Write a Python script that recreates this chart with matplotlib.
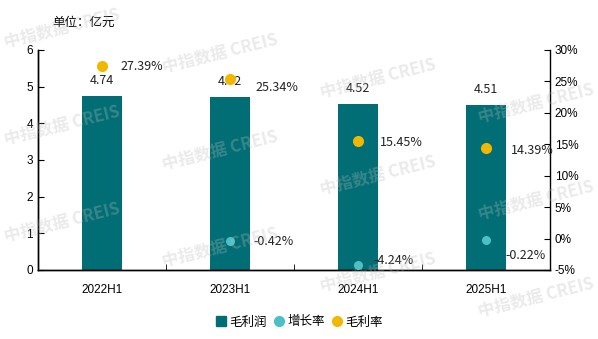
import numpy as np
import matplotlib
matplotlib.use('Agg')
from matplotlib import pyplot as plt
from matplotlib.lines import Line2D
from matplotlib.ticker import FuncFormatter

cjk = ['Noto Sans CJK SC', 'DejaVu Sans']
latin = ['Liberation Sans', 'DejaVu Sans']

periods = ['2022H1', '2023H1', '2024H1', '2025H1']
profit = [4.74, 4.72, 4.52, 4.51]               # 毛利润, 亿元
growth = [np.nan, -0.42, -4.24, -0.22]          # 增长率, %
margin = [27.39, 25.34, 15.45, 14.39]           # 毛利率, %

# label offsets (points) so the percent texts don't collide
margin_off = [(13, 0), (18, -6), (16, -1), (18, -1.5)]
growth_off = [None, (17, 0), (11, 3.5), (14, -11)]

c_bar = '#006e74'
c_growth = '#4dbfc6'
c_margin = '#f2b800'

fig = plt.figure(figsize=(5.98, 3.39), dpi=100)
ax = fig.add_axes([38/598, 69/339, 512/598, 220/339])
ax2 = ax.twinx()

x = np.arange(len(periods))
ax.bar(x, profit, width=0.31, color=c_bar, zorder=2)
for xi, v in zip(x, profit):
    ax.annotate(f'{v:.2f}', (xi, v), xytext=(0, 11), textcoords='offset points',
                ha='center', va='center', fontsize=9, family=cjk, color='#222222')

ax.set_xlim(-0.5, 3.5)
ax.set_ylim(0, 6)
ax.set_yticks(range(7))
ax.set_xticks(x)
ax.set_xticklabels(periods)
ax.set_xticks(np.arange(0.5, 4, 1), minor=True)
ax.tick_params(axis='x', which='major', length=0, pad=10)
ax.tick_params(axis='x', which='minor', direction='in', length=4)
ax.tick_params(axis='y', direction='in', length=4)

ax2.set_ylim(-5, 30)
ax2.set_yticks(range(-5, 31, 5))
ax2.yaxis.set_major_formatter(FuncFormatter(lambda v, p: f'{v:.0f}%'))
ax2.tick_params(axis='y', direction='in', length=4)

ax2.plot(x, margin, 'o', color=c_margin, ms=7, zorder=3)
ax2.plot(x, growth, 'o', color=c_growth, ms=5.5, zorder=3)
for xi, v, off in zip(x, margin, margin_off):
    ax2.annotate(f'{v:.2f}%', (xi, v), xytext=off, textcoords='offset points',
                 ha='left', va='center', fontsize=9, family=cjk, color='#222222')
for xi, v, off in zip(x, growth, growth_off):
    if off is None:
        continue
    ax2.annotate(f'{v:.2f}%', (xi, v), xytext=off, textcoords='offset points',
                 ha='left', va='center', fontsize=9, family=cjk, color='#222222')

for a in (ax, ax2):
    a.spines['top'].set_visible(False)
    for s in a.spines.values():
        s.set_linewidth(1.0)
        s.set_color('black')
    for lbl in a.get_xticklabels() + a.get_yticklabels():
        lbl.set_family(latin)
        lbl.set_fontsize(8.5)
ax.spines['right'].set_visible(False)

fig.text(52/598, 1 - 22/339, '单位：亿元', fontsize=9, family=cjk, va='center')

handles = [
    Line2D([], [], marker='s', ls='', color=c_bar, ms=7),
    Line2D([], [], marker='o', ls='', color=c_growth, ms=7),
    Line2D([], [], marker='o', ls='', color=c_margin, ms=7),
]
fig.legend(handles, ['毛利润', '增长率', '毛利率'], loc='center',
           bbox_to_anchor=(0.5, 1 - 322/339), ncol=3, frameon=False,
           prop={'family': cjk, 'size': 9}, handletextpad=0.15,
           columnspacing=0.5, handlelength=1.0)

# watermark lattice
cols = [62, 220, 378, 536]
for i, cx in enumerate(cols):
    y0 = (28 + 25 * i) % 97
    for cy in np.arange(y0, 315, 97):
        if cy < 20:
            continue
        fig.text(cx/598, 1 - cy/339, '中指数据 CREIS', fontsize=12, family=cjk,
                 fontweight='bold', color='#bbbbbb', alpha=0.3, rotation=14,
                 ha='center', va='center', zorder=10)

fig.savefig('out.png', dpi=100)
